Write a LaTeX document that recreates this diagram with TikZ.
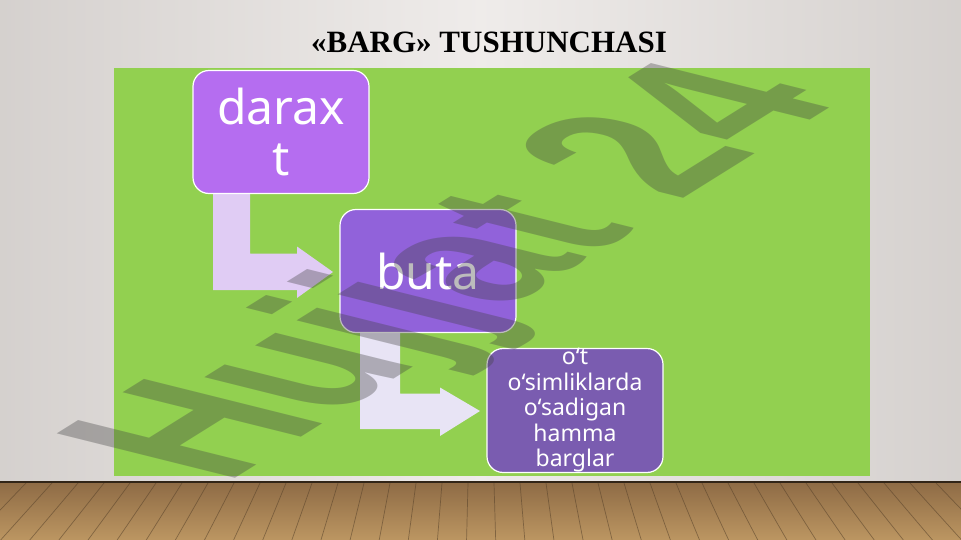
\documentclass[tikz,border=0pt]{standalone}
\usepackage{fontspec}
\usetikzlibrary{calc}
\newfontfamily\boxfont{Noto Sans}
\newfontfamily\titlefont{Liberation Serif}
\newfontfamily\markfont{Liberation Sans}
\definecolor{wallgray}{HTML}{E4DFDC}
\definecolor{leafgreen}{HTML}{92D050}
\definecolor{violetA}{HTML}{B56DF0}
\definecolor{violetB}{HTML}{9162DA}
\definecolor{violetC}{HTML}{7A5CB0}
\definecolor{arrowA}{HTML}{E0CCF4}
\definecolor{arrowB}{HTML}{E8E4F5}
\definecolor{woodtop}{HTML}{8E6B45}
\definecolor{woodbot}{HTML}{BC9662}
\pgfdeclarelayer{bg}
\pgfdeclarelayer{links}
\pgfsetlayers{bg,links,main}
\tikzset{
  levelbox/.style={draw=white, line width=1.2pt, rounded corners=16pt, minimum width=176pt,
    minimum height=123pt, inner sep=0pt, outer sep=0pt, text=white, align=center},
  plank/.style={line width=0.7pt, draw=woodtop!60!black, opacity=0.55},
  wmark/.style={text=black!75, text opacity=0.35, inner sep=0pt,
    font=\markfont\bfseries\fontsize{100}{100}\selectfont}
}

\begin{document}
\begin{tikzpicture}[x=1pt,y=-1pt]
  \useasboundingbox (0,0) rectangle (961,540);
  \begin{pgfonlayer}{bg}
    \shade[left color=wallgray!85!gray, right color=wallgray!85!gray, middle color=wallgray!60!white] (0,0) rectangle (961,482);
    % floor
    \shade[top color=woodtop, bottom color=woodbot] (0,482) rectangle (961,540);
    \foreach \x in {0,26,...,988}
      \draw[plank] (\x,483) -- ({480+(\x-480)*1.12},540);
    \draw[line width=2pt, woodtop!35!black] (0,482) -- (961,482);
    \fill[leafgreen] (114,68) rectangle (870,476);
  \end{pgfonlayer}

  \node[font=\titlefont\bfseries\fontsize{31}{36}\selectfont, anchor=base] (title) at (489,53) {«BARG» TUSHUNCHASI};

  \node[levelbox, fill=violetA, font=\boxfont\fontsize{48}{51}\selectfont] (darax) at (281,132) {darax\\t};
  \node[levelbox, fill=violetB, font=\boxfont\fontsize{48}{51}\selectfont] (buta) at (428,271) {buta};
  \node[levelbox, fill=violetC, font=\boxfont\fontsize{23}{25.5}\selectfont] (barglar) at (575,410.5)
    {o‘t\\o‘simliklarda\\o‘sadigan\\hamma\\barglar};

  % bent arrows
  \begin{pgfonlayer}{links}
    \fill[arrowA] ($(darax.south west)+(20,0)$) -- ++(37,0) -- ++(0,60) -- ++(47,0) -- ++(0,-7)
      -- ($(buta.west)+(-7,1)$) -- ++(-36,26) -- ++(0,-8) -- ++(-84,0) -- cycle;
    \fill[arrowB] ($(buta.south west)+(20,0)$) -- ++(40,0) -- ++(0,61) -- ++(40,0) -- ++(0,-6)
      -- ($(barglar.west)+(-7,0.5)$) -- ++(-40,25) -- ++(0,-7) -- ++(-80,0) -- cycle;
  \end{pgfonlayer}

  % watermark
  \begin{scope}[shift={(225,485)}]
    \node[wmark, cm={1.484,0.927,-2.591,0.646,(0,0)}, transform shape, anchor=base west] (hujjat) at (0,0) {Hujjat 24};
  \end{scope}
\end{tikzpicture}
\end{document}
